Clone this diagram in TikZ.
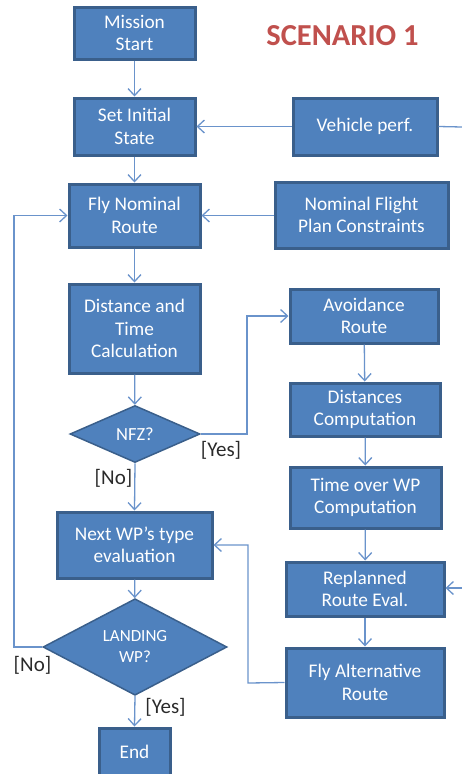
\documentclass[tikz,border=0pt]{standalone}
\usepackage{fontspec}
\setmainfont{Carlito}
\usetikzlibrary{arrows.meta,shapes.geometric}
\definecolor{boxfill}{HTML}{4F81BD}
\definecolor{boxline}{HTML}{3A5F8B}
\definecolor{conn}{HTML}{6A93CB}
\definecolor{titlered}{HTML}{C0504D}
\definecolor{lbl}{HTML}{2A2A2A}
\tikzset{
  fbox/.style={rectangle, fill=boxfill, draw=boxline, line width=3pt, text=white, align=center, inner sep=0pt,
    font=\fontsize{19.3}{22.5}\selectfont},
  fdia/.style={diamond, fill=boxfill, draw=boxline, line width=1.5pt, text=white, align=center, inner sep=0pt},
  conn/.style={draw=conn, line width=1.3pt},
  carr/.style={conn, -{Straight Barb[length=7pt, width=13pt, line width=1.3pt]}},
  lab/.style={text=lbl, font=\fontsize{21}{24}\selectfont, inner sep=0pt},
}
\begin{document}
\begin{tikzpicture}[x=1pt, y=-1pt]
\useasboundingbox (0,0) rectangle (462,774);
% boxes
\node[fbox, minimum width=121pt, minimum height=52pt] (ms) at (134.5,33) {Mission\\Start};
\node[fbox, minimum width=121pt, minimum height=57pt] (sis) at (134.5,126.5) {Set Initial\\State};
\node[fbox, minimum width=144pt, minimum height=57pt] (veh) at (365,126.5) {Vehicle perf.};
\node[fbox, minimum width=131pt, minimum height=63pt] (fnr) at (134.5,215.5) {Fly Nominal\\Route};
\node[fbox, minimum width=173pt, minimum height=66pt] (nfpc) at (361.5,215) {Nominal Flight\\Plan Constraints};
\node[fbox, minimum width=131pt, minimum height=89pt] (dtc) at (134.5,328.5) {Distance and\\Time\\Calculation};
\node[fdia, minimum width=130pt, minimum height=57pt, font=\fontsize{18.5}{22}\selectfont] (nfz) at (135,434) {NFZ?};
\node[fbox, minimum width=148pt, minimum height=54pt] (avr) at (364,316) {Avoidance\\Route};
\node[fbox, minimum width=150pt, minimum height=53pt] (dc) at (365,409.5) {Distances\\Computation};
\node[fbox, minimum width=151pt, minimum height=61pt] (tow) at (365.5,497.5) {Time over WP\\Computation};
\node[fbox, minimum width=158pt, minimum height=54pt] (rre) at (365,589) {Replanned\\Route Eval.};
\node[fbox, minimum width=158pt, minimum height=69pt] (far) at (365,682.5) {Fly Alternative\\Route};
\node[fbox, minimum width=155pt, minimum height=66pt] (nwp) at (134.5,545) {Next WP’s type\\evaluation};
\node[fdia, minimum width=184pt, minimum height=71pt, font=\fontsize{17}{21}\selectfont] (lwp) at (135,647) {LANDING\\WP?};
\node[fbox, minimum width=71pt, minimum height=48pt] (end) at (134.5,752) {End};
% title
\node[text=titlered, font=\fontsize{30.5}{34}\selectfont\bfseries, inner sep=0pt] (title) at (342.5,36) {SCENARIO 1};
% free ends
\coordinate (vehout) at (462,127);
\coordinate (rrein) at (462,588);
% connectors
\draw[carr] (ms) -- (sis);
\draw[carr] (veh) -- (sis);
\draw[conn] (veh.east) -- (vehout);
\draw[carr] (sis) -- (fnr);
\draw[carr] (nfpc.west |- fnr.east) -- (fnr.east);
\draw[carr] (fnr) -- (dtc);
\draw[carr] (dtc) -- (nfz);
\draw[carr] (nfz.south) -- (nwp.north);
\draw[carr] (nfz.east) -- (247,434) |- (avr.west);
\draw[carr] (avr) -- (dc);
\draw[carr] (dc) -- (tow);
\draw[carr] (tow) -- (rre);
\draw[carr] (rrein) -- (rre.east |- rrein);
\draw[carr] (rre) -- (far);
\draw[carr] (far.west) -- (248,683) |- (nwp.east);
\draw[carr] (nwp) -- (lwp);
\draw[carr] (lwp.west) -- (14,647) |- (fnr.west);
\draw[carr] (lwp.south) -- (end.north);
% labels
\node[lab] (nfzyes) at (221,450) {[Yes]};
\node[lab] (nfzno) at (113.5,478) {[No]};
\node[lab] (lwpno) at (32.5,665) {[No]};
\node[lab] (lwpyes) at (165.5,707) {[Yes]};
\end{tikzpicture}
\end{document}
